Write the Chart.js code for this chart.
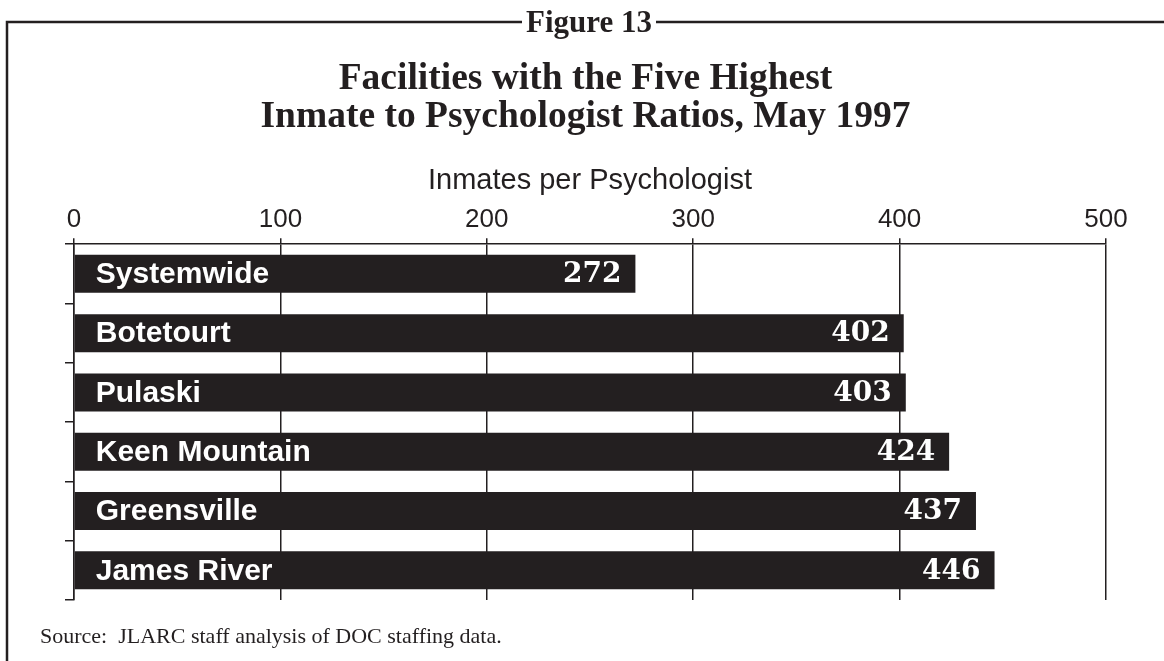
<!DOCTYPE html>
<html>
<head>
<meta charset="utf-8">
<script src="https://cdn.jsdelivr.net/npm/chart.js@4.4.1/dist/chart.umd.min.js"></script>
<style>
  html, body { margin: 0; padding: 0; background: #fff; }
  #wrap { width: 1164px; height: 661px; }
</style>
</head>
<body>
<div id="wrap"><canvas id="myChart" width="1164" height="661"></canvas></div>
<script>
// Inmates per psychologist, May 1997
const facilities = ["Systemwide", "Botetourt", "Pulaski", "Keen Mountain", "Greensville", "James River"];
const ratios = [272, 402, 403, 424, 437, 446];
const xTicks = [0, 100, 200, 300, 400, 500];

const ink = "#231f20";

// frame, "Figure 13" and source line
const framePlugin = {
  id: "frame",
  beforeDraw(chart) {
    const ctx = chart.ctx;
    ctx.save();
    ctx.fillStyle = "#fff";
    ctx.fillRect(0, 0, chart.width, chart.height);
    ctx.font = "bold 31px 'Liberation Serif'";
    const label = "Figure 13";
    const w = ctx.measureText(label).width;
    const cx = 589;
    ctx.strokeStyle = ink;
    ctx.lineWidth = 2.5;
    ctx.beginPath();
    ctx.moveTo(7, 661);
    ctx.lineTo(7, 22);
    ctx.lineTo(cx - w / 2 - 4, 22);
    ctx.moveTo(cx + w / 2 + 4, 22);
    ctx.lineTo(chart.width, 22);
    ctx.stroke();
    ctx.fillStyle = ink;
    ctx.textAlign = "center";
    ctx.textBaseline = "alphabetic";
    ctx.fillText(label, cx, 32);
    ctx.textAlign = "left";
    ctx.font = "22px 'Liberation Serif'";
    ctx.fillText("Source:  JLARC staff analysis of DOC staffing data.", 40, 643);
    ctx.restore();
  }
};

// names and values written inside the bars
const barText = {
  id: "barText",
  afterDatasetsDraw(chart) {
    const ctx = chart.ctx;
    const meta = chart.getDatasetMeta(0);
    ctx.save();
    ctx.fillStyle = "#fff";
    ctx.textBaseline = "middle";
    meta.data.forEach((bar, i) => {
      ctx.font = "bold 30px 'Liberation Sans'";
      ctx.textAlign = "left";
      ctx.fillText(facilities[i], bar.base + 21, bar.y + 1);
      ctx.font = "bold 28px 'DejaVu Serif'";
      ctx.textAlign = "right";
      ctx.fillText(String(ratios[i]), bar.x - 14, bar.y + 1);
    });
    ctx.restore();
  }
};

const myChart = new Chart("myChart", {
  type: "bar",
  data: {
    labels: facilities,
    datasets: [{
      data: ratios,
      backgroundColor: ink,
      borderWidth: 0,
      barPercentage: 0.64,
      categoryPercentage: 1.0
    }]
  },
  plugins: [framePlugin, barText],
  options: {
    indexAxis: "y",
    responsive: false,
    animation: false,
    events: [],
    layout: { padding: { left: 65, right: 58, top: 0, bottom: 61 } },
    plugins: {
      legend: { display: false },
      tooltip: { enabled: false },
      title: {
        display: true,
        text: ["Facilities with the Five Highest", "Inmate to Psychologist Ratios, May 1997"],
        color: ink,
        font: { family: "'Liberation Serif'", size: 37.5, weight: "bold", lineHeight: "38px" },
        padding: { top: 60, bottom: 23.7 }
      }
    },
    scales: {
      x: {
        position: "top",
        min: 0,
        max: 500,
        afterBuildTicks(scale) { scale.ticks = xTicks.map(v => ({ value: v })); },
        ticks: {
          color: ink,
          padding: 3,
          font: { family: "'Liberation Sans'", size: 26 }
        },
        grid: { color: ink, lineWidth: 1.5, tickLength: 6 },
        border: { color: ink, width: 1.5 },
        title: {
          display: true,
          text: "Inmates per Psychologist",
          color: ink,
          font: { family: "'Liberation Sans'", size: 29 },
          padding: { top: 4, bottom: 2.5 }
        }
      },
      y: {
        ticks: { display: false },
        grid: { offset: true, drawOnChartArea: false, color: ink, lineWidth: 1.5, tickLength: 9 },
        border: { color: ink, width: 1.5 }
      }
    }
  }
});
</script>
</body>
</html>
